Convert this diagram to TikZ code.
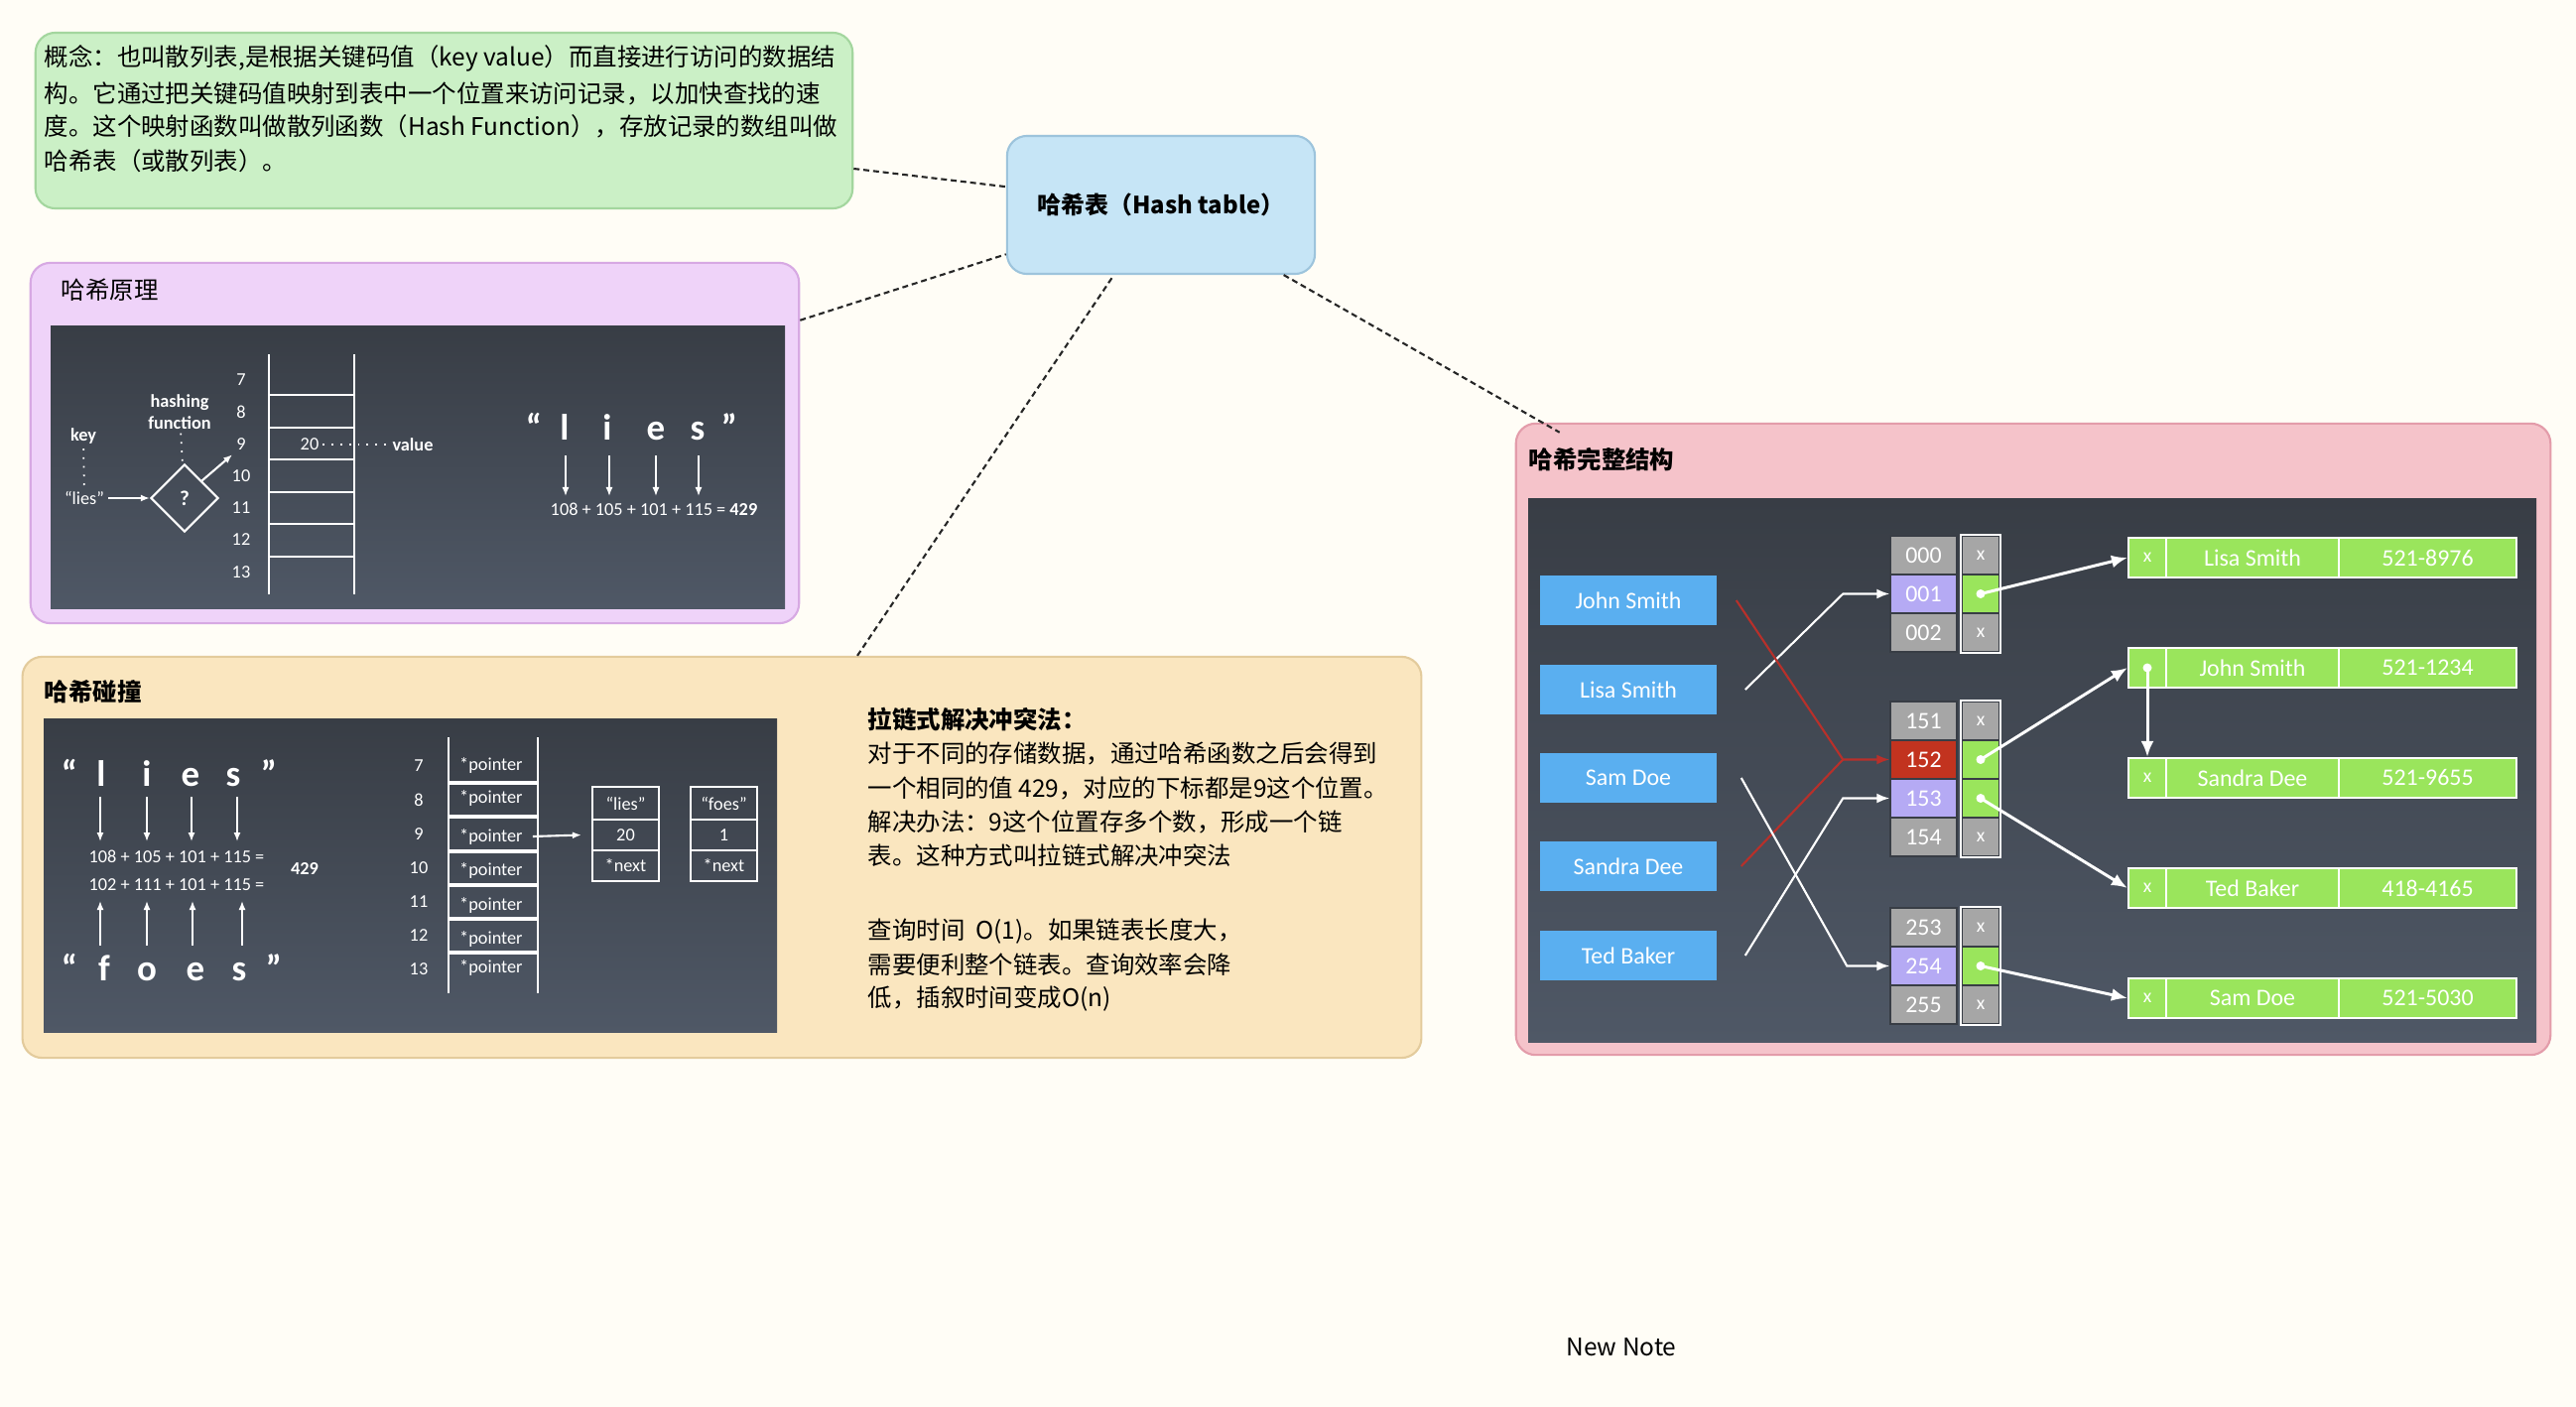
\documentclass[tikz,border=0pt]{standalone}
\usepackage{fontspec}
\setmainfont{Noto Sans CJK SC}
\newfontfamily\calfont{Carlito}
\usetikzlibrary{shapes.geometric,arrows.meta}

\definecolor{bgcream}{HTML}{FFFDF6}
\definecolor{conceptfill}{HTML}{CBF0C6}
\definecolor{conceptline}{HTML}{A3D69E}
\definecolor{principlefill}{HTML}{EFD3F9}
\definecolor{principleline}{HTML}{D7A9E3}
\definecolor{collisionfill}{HTML}{FAE6BF}
\definecolor{collisionline}{HTML}{E3CB9C}
\definecolor{structfill}{HTML}{F5C3CA}
\definecolor{structline}{HTML}{E39CAA}
\definecolor{rootfill}{HTML}{C6E5F6}
\definecolor{rootline}{HTML}{9DC4DC}
\definecolor{slidetop}{HTML}{383D45}
\definecolor{slidebot}{HTML}{4F5866}
\definecolor{keyblue}{HTML}{5AAFF0}
\definecolor{cellgrey}{HTML}{A6A6A6}
\definecolor{celllav}{HTML}{B5AAF4}
\definecolor{cellred}{HTML}{C2331F}
\definecolor{cellgreen}{HTML}{9AE55C}
\definecolor{hitred}{HTML}{B8302A}

\tikzset{
  card/.style={draw, line width=0.6pt, rounded corners=0.2cm, inner sep=0pt},
  slide/.style={top color=slidetop, bottom color=slidebot, draw=none},
  note/.style={font=\fontsize{6.95}{9.7}\selectfont, anchor=west, inner sep=0pt},
  notebf/.style={note, font=\bfseries\fontsize{6.95}{9.7}\selectfont},
  wtxt/.style={text=white, font=\calfont\fontsize{5.2}{6.2}\selectfont, inner sep=1pt},
  bigch/.style={text=white, font=\calfont\bfseries\fontsize{10.5}{12}\selectfont, inner sep=0pt, anchor=base},
  wline/.style={white, line width=0.6pt},
  thinarrow/.style={white, line width=0.4pt, -{Latex[length=0.9mm,width=0.7mm]}},
  link/.style={black!85, line width=0.6pt, dash pattern=on 1.7pt off 1.1pt},
  keybox/.style={fill=keyblue, text=white, minimum width=1.78cm, minimum height=0.5cm,
    font=\calfont\fontsize{6.8}{8}\selectfont, inner sep=0pt},
  bucket/.style={draw=slidetop, line width=0.4pt, text=white, minimum width=0.67cm, minimum height=0.39cm,
    font=\calfont\fontsize{6.8}{8}\selectfont, inner sep=0pt},
  ptrcell/.style={bucket, minimum width=0.38cm, font=\calfont\fontsize{5.6}{6}\selectfont},
  rec/.style={fill=cellgreen, draw=white, line width=0.6pt, text=white, minimum height=0.4cm,
    font=\calfont\fontsize{6.8}{8}\selectfont, inner sep=0pt},
  hitline/.style={hitred, line width=0.6pt},
  ptrarrow/.style={white, line width=0.85pt, -{Latex[length=1.6mm,width=1.3mm]}}
}

\begin{document}
\begin{tikzpicture}[x=0.01cm,y=-0.01cm]
  \fill[bgcream] (0,0) rectangle (2596,1418);
  \useasboundingbox (0,0) rectangle (2596,1418);

  % cards
  \node[card, fill=conceptfill, draw=conceptline, minimum width=8.23cm, minimum height=1.77cm] (concept) at (447.5,121.5) {};
  \node[card, fill=rootfill, draw=rootline, minimum width=3.10cm, minimum height=1.39cm,
    font=\bfseries\fontsize{6.8}{8}\selectfont] (root) at (1170,206.5) {哈希表（Hash table）};
  \node[card, fill=principlefill, draw=principleline, minimum width=7.74cm, minimum height=3.63cm] (principle) at (418,446.5) {};
  \node[card, fill=collisionfill, draw=collisionline, minimum width=14.09cm, minimum height=4.04cm] (collision) at (727.5,864) {};
  \node[card, fill=structfill, draw=structline, minimum width=10.42cm, minimum height=6.36cm] (structure) at (2049,745) {};

  \draw[link] (concept) -- (root);
  \draw[link] (principle) -- (root);
  \draw[link] (collision) -- (root);
  \draw[link] (root) -- ([xshift=0.45cm,yshift=-0.1cm]structure.north west);

  % concept text
  \node[note] (c1) at (44,59) {概念：也叫散列表,是根据关键码值（key value）而直接进行访问的数据结};
  \node[note] (c2) at (44,94) {构。它通过把关键码值映射到表中一个位置来访问记录，以加快查找的速};
  \node[note] (c3) at (44,127) {度。这个映射函数叫做散列函数（Hash Function），存放记录的数组叫做};
  \node[note] (c4) at (44,162) {哈希表（或散列表）。};

  % hash principle
  \node[note] (tprinciple) at (61,292) {哈希原理};
  \fill[slide] (51,328) rectangle (791,613);
  \node[wtxt, font=\calfont\bfseries\fontsize{5.2}{6.2}\selectfont] (keyP) at (84,440) {key};
  \node[wtxt] (liesP) at (85,502) {“lies”};
  \node[wtxt, font=\calfont\bfseries\fontsize{5.2}{6.2}\selectfont, align=center] (hfP) at (181,415) {hashing\\function};
  \node[diamond, draw=white, line width=0.6pt, minimum width=0.68cm, minimum height=0.68cm, inner sep=0pt,
    text=white, font=\calfont\bfseries\fontsize{6}{7}\selectfont] (hashfn) at (186,502) {?};
  \draw[white, line width=0.5pt, dotted] (keyP) -- (liesP);
  \draw[white, line width=0.5pt, dotted] (hfP) -- (hashfn);
  \draw[thinarrow, line width=0.6pt] (liesP) -- (hashfn);
  \foreach \k/\y in {7/383,8/415,9/448,10/480,11/512,12/544,13/577}
    \node[wtxt] (pn\k) at (243,\y) {\k};
  \draw[thinarrow, line width=0.6pt] (hashfn.north east) -- (pn9.south west);
  \draw[wline] (271,357) -- (271,599) (357,357) -- (357,599);
  \foreach \y in {398,431,463,496,528,561} \draw[wline] (271,\y) -- (357,\y);
  \node[wtxt] (v20) at (312,448) {20};
  \node[wtxt, font=\calfont\bfseries\fontsize{5.2}{6.2}\selectfont] (valP) at (416,448) {value};
  \draw[white, line width=0.5pt, dotted] (v20) -- (valP);
  \foreach \x/\c [count=\i] in {538/“,569/l,612/i,661/e,703/s,735/”}
    \node[bigch] (pl\i) at (\x,443) {\c};
  \node[wtxt] (peq) at (659,513) {108 + 105 + 101 + 115 = \textbf{429}};
  \foreach \x in {570,614,661,704} \draw[thinarrow] (\x,459) -- (\x,500);

  % hash collision
  \node[notebf] (tcollision) at (44,697) {哈希碰撞};
  \fill[slide] (44,724) rectangle (783,1040);
  \foreach \x/\c [count=\i] in {70/“,102/l,148/i,192/e,235/s,271/”}
    \node[bigch] (cl\i) at (\x,792) {\c};
  \foreach \x/\c [count=\i] in {70/“,105/f,148/o,197/e,241/s,276/”}
    \node[bigch] (cf\i) at (\x,988) {\c};
  \foreach \x in {101,148,193,239} \draw[thinarrow] (\x,803) -- (\x,848);
  \foreach \x in {101,148,194,244} \draw[thinarrow] (\x,953) -- (\x,908);
  \node[wtxt] (eq1) at (178,863) {108 + 105 + 101 + 115 =};
  \node[wtxt] (eq2) at (178,892) {102 + 111 + 101 + 115 =};
  \node[wtxt, font=\calfont\bfseries\fontsize{5.2}{6.2}\selectfont] (sum) at (307,875) {429};
  \foreach \k/\y in {7/772,8/806,9/841,10/875,11/909,12/943,13/977}
    \node[wtxt] (cn\k) at (422,\y) {\k};
  \draw[wline] (452,743) -- (452,1001) (542,743) -- (542,1001);
  \foreach \y in {789,823,858,892,926,960} \draw[wline, line width=0.9pt] (452,\y) -- (542,\y);
  \foreach \k/\y in {7/771,8/804,9/843,10/877,11/912,12/946,13/975}
    \node[wtxt, anchor=west] (ptr\k) at (459,\y) {*pointer};
  \foreach \n/\x in {lies/630.5,foes/729.5} {
    \node[draw=white, line width=0.6pt, minimum width=0.67cm, minimum height=0.33cm, wtxt] (\n q) at (\x,809.5) {“\n”};
    \node[draw=white, line width=0.6pt, minimum width=0.67cm, minimum height=0.31cm, wtxt] (\n v) at (\x,841.5) {};
    \node[draw=white, line width=0.6pt, minimum width=0.67cm, minimum height=0.31cm, wtxt] (\n n) at (\x,872.5) {*next};
  }
  \node[wtxt] at (liesv) {20};
  \node[wtxt] at (foesv) {1};
  \draw[thinarrow, line width=0.6pt] ([xshift=0.06cm]ptr9.east) -- ([xshift=-0.1cm]liesv.west);

  % chaining text
  \node[notebf] (h1) at (874,725) {拉链式解决冲突法：};
  \node[note] (h2) at (874,759) {对于不同的存储数据，通过哈希函数之后会得到};
  \node[note] (h3) at (874,794) {一个相同的值 429，对应的下标都是9这个位置。};
  \node[note] (h4) at (874,828) {解决办法：9这个位置存多个数，形成一个链};
  \node[note] (h5) at (874,862) {表。这种方式叫拉链式解决冲突法};
  \node[note] (h6) at (874,939) {查询时间\ \ O(1)。如果链表长度大，};
  \node[note] (h7) at (874,972) {需要便利整个链表。查询效率会降};
  \node[note] (h8) at (874,1007) {低，插叙时间变成O(n)};

  % full structure
  \node[notebf] (tstructure) at (1540,463) {哈希完整结构};
  \fill[slide] (1540,502) rectangle (2556,1050);
  \foreach \n/\t/\y in {jsmith/John Smith/605, lsmith/Lisa Smith/695, sdoe/Sam Doe/784, sdee/Sandra Dee/873, tbaker/Ted Baker/963}
    \node[keybox] (\n) at (1641,\y) {\t};
  \foreach \n/\y/\c in {000/559.5/cellgrey, 001/598.5/celllav, 002/637.5/cellgrey,
      151/726.5/cellgrey, 152/765.5/cellred, 153/804.5/celllav, 154/843.5/cellgrey,
      253/934.5/cellgrey, 254/973.5/celllav, 255/1012.5/cellgrey}
    \node[bucket, fill=\c] (b\n) at (1938.5,\y) {\n};
  \foreach \n/\y in {000/559.5, 002/637.5, 151/726.5, 154/843.5, 253/934.5, 255/1012.5}
    \node[ptrcell, fill=cellgrey] (p\n) at (1996,\y) {x};
  \foreach \n/\y in {001/598.5, 152/765.5, 153/804.5, 254/973.5}
    \node[ptrcell, fill=cellgreen] (p\n) at (1996,\y) {};
  \draw[white, line width=0.6pt] (p000.north west) rectangle (p002.south east);
  \draw[white, line width=0.6pt] (p151.north west) rectangle (p154.south east);
  \draw[white, line width=0.6pt] (p253.north west) rectangle (p255.south east);

  \foreach \n/\t/\p/\y in {lisa/Lisa Smith/521-8976/562, john/John Smith/521-1234/673,
      sandra/Sandra Dee/521-9655/784, ted/Ted Baker/418-4165/895, sam/Sam Doe/521-5030/1006} {
    \node[rec, minimum width=0.38cm] (\n-x) at (2164,\y) {};
    \node[rec, minimum width=1.74cm] (\n-name) at (2270,\y) {\t};
    \node[rec, minimum width=1.79cm] (\n-tel) at (2446.5,\y) {\p};
  }
  \foreach \n in {lisa,sandra,ted,sam}
    \node[text=white, font=\calfont\fontsize{5.6}{6}\selectfont, inner sep=0pt] at (\n-x) {x};

  \draw[wline, -{Latex[length=1.3mm,width=1mm]}] ([xshift=0.28cm]lsmith.east) -- ([xshift=-0.47cm]b001.west) -- (b001.west);
  \draw[hitline, -{Latex[length=1.3mm,width=1mm]}] ([xshift=0.19cm]jsmith.east) -- ([xshift=-0.47cm]b152.west) -- (b152.west);
  \draw[hitline] ([xshift=0.24cm]sdee.east) -- ([xshift=-0.47cm]b152.west);
  \draw[wline, -{Latex[length=1.3mm,width=1mm]}] ([xshift=0.28cm]tbaker.east) -- ([xshift=-0.47cm]b153.west) -- (b153.west);
  \draw[wline, -{Latex[length=1.3mm,width=1mm]}] ([xshift=0.24cm]sdoe.east) -- ([xshift=-0.43cm]b254.west) -- (b254.west);

  \draw[ptrarrow] (p001.center) -- (lisa-x.west);
  \draw[ptrarrow] (p152.center) -- (john-x.west);
  \draw[ptrarrow] (p153.center) -- (ted-x.west);
  \draw[ptrarrow] (p254.center) -- (sam-x.west);
  \draw[ptrarrow] (john-x.center) -- (sandra-x.north);
  \foreach \n in {p001,p152,p153,p254,john-x} \fill[white] (\n.center) circle (0.045cm);

  \node[note, anchor=center] (newnote) at (1634,1358) {New Note};
\end{tikzpicture}
\end{document}
